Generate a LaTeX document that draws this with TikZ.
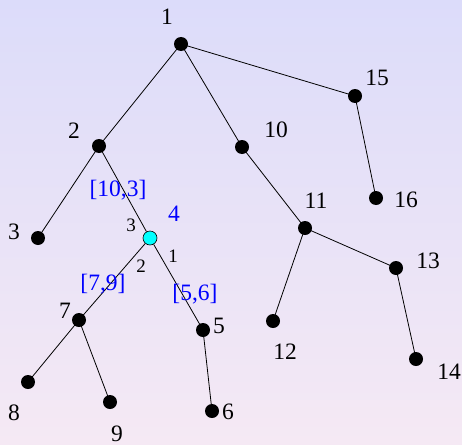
\documentclass[tikz,border=0pt]{standalone}
\usepackage{fontspec}
\setmainfont{Liberation Serif}
\definecolor{cyanfill}{RGB}{0,255,255}
\definecolor{bluetext}{RGB}{0,0,255}
\pgfdeclarelayer{bg}
\pgfsetlayers{bg,main}
\begin{document}
\begin{tikzpicture}[x=1pt,y=-1pt,
  dot/.style={circle,fill=black,minimum size=14pt,inner sep=0pt},
  cdot/.style={circle,draw=black,fill=cyanfill,minimum size=14pt,inner sep=0pt,line width=0.6pt},
  lbl/.style={inner sep=0pt,font=\fontsize{23.5}{23.5}\selectfont},
  blbl/.style={lbl,text=bluetext},
  slbl/.style={inner sep=0pt,font=\fontsize{19}{19}\selectfont},
  edge/.style={draw=black,line width=0.8pt}]
\begin{pgfonlayer}{bg}
\fill[top color={rgb,255:red,220;green,220;blue,250},bottom color={rgb,255:red,245;green,233;blue,244}] (0,0) rectangle (462,444);
\end{pgfonlayer}
\useasboundingbox (0,0) rectangle (462,444);
% nodes
\node[dot] (n1) at (181,44) {};
\node[dot] (n2) at (99,146) {};
\node[dot] (n3) at (38,238) {};
\node[cdot] (n4) at (150,238) {};
\node[dot] (n5) at (203,330) {};
\node[dot] (n6) at (212,411) {};
\node[dot] (n7) at (79,320) {};
\node[dot] (n8) at (28,382) {};
\node[dot] (n9) at (110,402) {};
\node[dot] (n10) at (242,147) {};
\node[dot] (n11) at (305,228) {};
\node[dot] (n12) at (273,321) {};
\node[dot] (n13) at (396,268) {};
\node[dot] (n14) at (416,359) {};
\node[dot] (n15) at (355,96) {};
\node[dot] (n16) at (376,198) {};
% edges
\begin{pgfonlayer}{bg}
\path[edge] (n1.center) -- (n2.center);
\path[edge] (n1.center) -- (n10.center);
\path[edge] (n1.center) -- (n15.center);
\path[edge] (n2.center) -- (n3.center);
\path[edge] (n2.center) -- (n4);
\path[edge] (n4) -- (n7.center);
\path[edge] (n4) -- (n5.center);
\path[edge] (n5.center) -- (n6.center);
\path[edge] (n7.center) -- (n8.center);
\path[edge] (n7.center) -- (n9.center);
\path[edge] (n10.center) -- (n11.center);
\path[edge] (n11.center) -- (n12.center);
\path[edge] (n11.center) -- (n13.center);
\path[edge] (n13.center) -- (n14.center);
\path[edge] (n15.center) -- (n16.center);
\end{pgfonlayer}
% labels
\node[lbl] (l1) at (167,17) {1};
\node[lbl] (l2) at (74,131) {2};
\node[lbl] (l3) at (14,232) {3};
\node[blbl] (l4) at (174,214) {4};
\node[lbl] (l5) at (219,326) {5};
\node[lbl] (l6) at (228,412) {6};
\node[lbl] (l7) at (65,311) {7};
\node[lbl] (l8) at (14,413) {8};
\node[lbl] (l9) at (117,434) {9};
\node[lbl] (l10) at (276,130) {10};
\node[lbl] (l11) at (316,201) {11};
\node[lbl] (l12) at (285,352) {12};
\node[lbl] (l13) at (428,261) {13};
\node[lbl] (l14) at (449,372) {14};
\node[lbl] (l15) at (377,78) {15};
\node[lbl] (l16) at (406,200) {16};
\node[blbl] (e24) at (118,190) {[10,3]};
\node[blbl] (e47) at (103,284) {[7,9]};
\node[blbl] (e45) at (195,294) {[5,6]};
\node[slbl] (p3) at (131,225) {3};
\node[slbl] (p2) at (141,266) {2};
\node[slbl] (p1) at (173,256) {1};
\end{tikzpicture}
\end{document}
